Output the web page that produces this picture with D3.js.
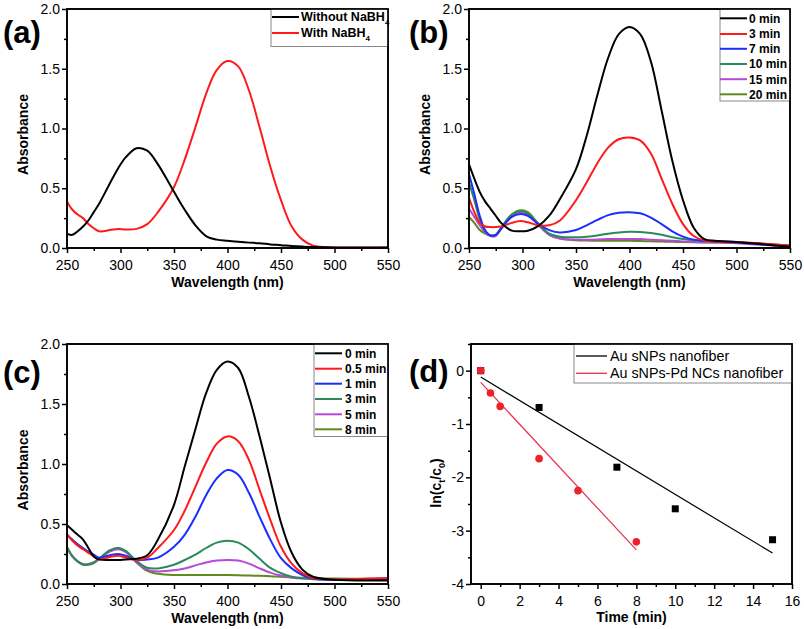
<!DOCTYPE html>
<html><head><meta charset="utf-8">
<script src="https://cdn.jsdelivr.net/npm/d3@7"></script>
<style>
html,body{margin:0;padding:0;background:#fff;}
svg{display:block;font-family:"Liberation Sans",Arial,sans-serif;}
</style></head>
<body>
<svg id="c" width="804" height="629"></svg>
<script>
// ---- shared wavelength grid (nm) ----
const wavelengths = [250,255,260,265,270,275,280,290,298,305,315,325,335,350,360,370,380,390,400,410,420,430,440,450,460,470,480,500,550];

// ---- panel (a) ----
const aLabels = ["Without NaBH", "With NaBH"];
const aWithout = [0.12,0.11,0.14,0.18,0.23,0.30,0.37,0.54,0.67,0.76,0.835,0.815,0.70,0.47,0.32,0.19,0.10,0.07,0.06,0.052,0.045,0.04,0.03,0.024,0.017,0.012,0.008,0.005,0.005];
const aWith = [0.39,0.32,0.28,0.25,0.20,0.165,0.14,0.15,0.16,0.155,0.16,0.20,0.30,0.51,0.74,1.01,1.29,1.49,1.565,1.52,1.32,1.01,0.68,0.40,0.18,0.07,0.02,0.005,0.005];

// ---- panel (b) ----
const bLabels = ["0 min","3 min","7 min","10 min","15 min","20 min"];
const b0 = [0.70,0.58,0.47,0.39,0.33,0.27,0.21,0.145,0.14,0.145,0.185,0.27,0.41,0.66,0.94,1.28,1.59,1.79,1.85,1.79,1.56,1.15,0.73,0.40,0.17,0.075,0.06,0.05,0.01];
const b3 = [0.42,0.30,0.21,0.18,0.175,0.175,0.18,0.21,0.225,0.215,0.19,0.19,0.23,0.40,0.55,0.71,0.84,0.91,0.925,0.90,0.79,0.58,0.37,0.20,0.10,0.065,0.055,0.05,0.02];
const b7 = [0.62,0.45,0.27,0.15,0.105,0.11,0.16,0.26,0.285,0.27,0.20,0.15,0.13,0.15,0.19,0.235,0.275,0.295,0.30,0.29,0.255,0.20,0.14,0.095,0.07,0.06,0.055,0.045,0.015];
const b10 = [0.55,0.40,0.24,0.14,0.105,0.11,0.17,0.28,0.31,0.29,0.20,0.12,0.095,0.09,0.095,0.105,0.12,0.13,0.135,0.133,0.125,0.11,0.09,0.075,0.065,0.06,0.058,0.05,0.02];
const b15 = [0.33,0.26,0.19,0.13,0.10,0.10,0.16,0.27,0.30,0.28,0.19,0.11,0.08,0.07,0.07,0.072,0.075,0.076,0.076,0.075,0.07,0.065,0.06,0.055,0.05,0.048,0.046,0.04,0.01];
const b20 = [0.26,0.21,0.15,0.12,0.105,0.11,0.165,0.28,0.315,0.30,0.20,0.11,0.08,0.065,0.062,0.06,0.06,0.06,0.06,0.058,0.056,0.054,0.052,0.05,0.048,0.047,0.046,0.044,0.02];

// ---- panel (c) ----
const cLabels = ["0 min","0.5 min","1 min","3 min","5 min","8 min"];
const c0 = [0.49,0.45,0.41,0.37,0.30,0.23,0.205,0.2,0.2,0.205,0.21,0.24,0.37,0.66,0.98,1.29,1.59,1.785,1.855,1.80,1.56,1.23,0.87,0.51,0.26,0.12,0.06,0.035,0.03];
const c05 = [0.415,0.36,0.32,0.29,0.26,0.23,0.205,0.225,0.235,0.22,0.2,0.22,0.30,0.45,0.61,0.81,1.01,1.17,1.23,1.19,1.035,0.785,0.535,0.31,0.17,0.09,0.05,0.04,0.05];
const c1 = [0.41,0.37,0.33,0.30,0.27,0.245,0.22,0.24,0.25,0.235,0.2,0.205,0.22,0.31,0.41,0.56,0.74,0.88,0.95,0.91,0.76,0.56,0.37,0.215,0.13,0.075,0.045,0.035,0.035];
const c3 = [0.30,0.23,0.19,0.165,0.165,0.18,0.21,0.28,0.30,0.275,0.19,0.135,0.13,0.16,0.20,0.245,0.30,0.345,0.36,0.345,0.29,0.21,0.135,0.09,0.06,0.047,0.042,0.04,0.04];
const c5 = [0.30,0.235,0.19,0.165,0.165,0.18,0.21,0.27,0.29,0.265,0.18,0.12,0.105,0.115,0.13,0.155,0.18,0.195,0.20,0.195,0.17,0.13,0.095,0.07,0.055,0.045,0.04,0.035,0.035];
const c8 = [0.31,0.23,0.185,0.16,0.16,0.175,0.21,0.28,0.30,0.275,0.18,0.11,0.085,0.075,0.075,0.075,0.075,0.075,0.075,0.073,0.07,0.068,0.065,0.06,0.055,0.052,0.05,0.045,0.045];

// ---- panel (d) ----
const dLabels = ["Au sNPs nanofiber","Au sNPs-Pd NCs nanofiber"];
const dTimeAu = [0,3,7,10,15];
const dLnAu = [0,-0.69,-1.81,-2.59,-3.17];
const dTimePd = [0,0.5,1,3,5,8];
const dLnPd = [0,-0.42,-0.67,-1.65,-2.25,-3.21];
const dFitAuT = [0,15], dFitAuY = [-0.12,-3.42];
const dFitPdT = [0,8], dFitPdY = [-0.22,-3.36];

const wlTicks = [250,300,350,400,450,500,550];
const wlMinor = [275,325,375,425,475,525];
const absTicks = [0,0.5,1.0,1.5,2.0];
const absMinor = [0.25,0.75,1.25,1.75];

const svg = d3.select("#c");
const FONT = '"Liberation Sans",Arial,sans-serif';

function frameAxes(g, x, y, L, R, T, B, xt, xm, yt, ym, fmtX, fmtY) {
  const ax = g.append("g").attr("transform", `translate(0,${B})`)
    .call(d3.axisBottom(x).tickValues(xt).tickSize(5).tickSizeOuter(0).tickFormat(fmtX));
  const axm = g.append("g").attr("transform", `translate(0,${B})`)
    .call(d3.axisBottom(x).tickValues(xm).tickSize(3).tickSizeOuter(0).tickFormat(""));
  const ay = g.append("g").attr("transform", `translate(${L},0)`)
    .call(d3.axisLeft(y).tickValues(yt).tickSize(5).tickSizeOuter(0).tickFormat(fmtY));
  const aym = g.append("g").attr("transform", `translate(${L},0)`)
    .call(d3.axisLeft(y).tickValues(ym).tickSize(3).tickSizeOuter(0).tickFormat(""));
  [ax, axm, ay, aym].forEach(a => {
    a.select(".domain").remove();
    a.selectAll("line").attr("stroke", "#000").attr("stroke-width", 1.5);
    a.selectAll("text").attr("fill", "#000").attr("font-size", 14).attr("font-family", FONT);
  });
  ax.selectAll("text").attr("y", 9).attr("dy", "0.9em");
  ay.selectAll("text").attr("x", -7);
  g.append("rect").attr("x", L).attr("y", T).attr("width", R - L).attr("height", B - T)
    .attr("fill", "none").attr("stroke", "#000").attr("stroke-width", 1.6);
}

let clipN = 0;
function spectrumPanel(opts) {
  const {L, R, T, B, series, colors, labels, tag, tagX, tagY, legend} = opts;
  const g = svg.append("g");
  const x = d3.scaleLinear().domain([250, 550]).range([L, R]);
  const y = d3.scaleLinear().domain([0, 2]).range([B, T]);
  const id = "clip" + (clipN++);
  svg.append("clipPath").attr("id", id).append("rect")
    .attr("x", L).attr("y", T).attr("width", R - L).attr("height", B - T);
  const line = d3.line().x((d, i) => x(wavelengths[i])).y(d => y(d)).curve(d3.curveCatmullRom.alpha(0.5));
  const lines = g.append("g").attr("clip-path", `url(#${id})`);
  series.map((s, i) => ({s, i})).reverse().forEach(({s, i}) => {
    lines.append("path").attr("d", line(s)).attr("fill", "none")
      .attr("stroke", colors[i]).attr("stroke-width", 2);
  });
  frameAxes(g, x, y, L, R, T, B, wlTicks, wlMinor, absTicks, absMinor, d3.format("d"), d3.format(".1f"));
  g.append("text").attr("x", (L + R) / 2).attr("y", B + 39).attr("text-anchor", "middle")
    .attr("font-weight", "bold").attr("font-size", 14).text("Wavelength (nm)");
  g.append("text").attr("transform", `translate(${L - 39},${(T + B) / 2 + 6}) rotate(-90)`)
    .attr("text-anchor", "middle").attr("font-weight", "bold").attr("font-size", 14).text("Absorbance");
  g.append("text").attr("x", tagX).attr("y", tagY).attr("font-weight", "bold")
    .attr("font-size", 31).text(tag);
  const lg = g.append("g");
  lg.append("rect").attr("x", legend.x0).attr("y", T).attr("width", legend.x1 - legend.x0)
    .attr("height", legend.y1 - T).attr("fill", "#fff").attr("stroke", "#888").attr("stroke-width", 1);
  labels.forEach((lab, i) => {
    const yy = legend.rows[i];
    lg.append("line").attr("x1", legend.lx0).attr("x2", legend.lx1).attr("y1", yy).attr("y2", yy)
      .attr("stroke", colors[i]).attr("stroke-width", 2);
    const t = lg.append("text").attr("x", legend.tx).attr("y", yy + 4.3)
      .attr("font-weight", "bold").attr("font-size", legend.fs).text(lab);
    if (legend.sub) t.append("tspan").attr("font-size", 8).attr("dy", 4).text(legend.sub);
  });
  // redraw frame over legend
  g.append("rect").attr("x", L).attr("y", T).attr("width", R - L).attr("height", B - T)
    .attr("fill", "none").attr("stroke", "#000").attr("stroke-width", 1.6);
}

spectrumPanel({
  L: 67, R: 388, T: 9, B: 248,
  series: [aWithout, aWith], colors: ["#000000", "#ff1a1a"], labels: aLabels,
  tag: "(a)", tagX: 3, tagY: 43,
  legend: {x0: 271, x1: 388, y1: 46.5, rows: [17, 33], lx0: 272, lx1: 299, tx: 301, fs: 12.5, sub: "4"}
});

spectrumPanel({
  L: 469, R: 790, T: 9, B: 248,
  series: [b0, b3, b7, b10, b15, b20],
  colors: ["#000000", "#ff1a1a", "#1a2eff", "#2a8a5a", "#b848d8", "#5f8a1e"], labels: bLabels,
  tag: "(b)", tagX: 409, tagY: 43,
  legend: {x0: 720, x1: 790, y1: 101, rows: [18.3, 34, 48.8, 64, 79.2, 94.3], lx0: 720, lx1: 747, tx: 749, fs: 12}
});

spectrumPanel({
  L: 67, R: 388, T: 344, B: 584,
  series: [c0, c05, c1, c3, c5, c8],
  colors: ["#000000", "#ff1a1a", "#1a2eff", "#2a8a5a", "#b848d8", "#5f8a1e"], labels: cLabels,
  tag: "(c)", tagX: 3, tagY: 383,
  legend: {x0: 314, x1: 388, y1: 436.5, rows: [353.3, 368.7, 383.7, 399, 414.3, 429.3], lx0: 315, lx1: 342, tx: 345, fs: 12}
});

// ---- panel (d) ----
(function () {
  const L = 471, R = 792, T = 344, B = 584;
  const g = svg.append("g");
  const x = d3.scaleLinear().domain([-0.5, 16]).range([L, R]);
  const y = d3.scaleLinear().domain([-4, 0.5]).range([B, T]);
  const fit = d3.line().x(d => x(d[0])).y(d => y(d[1]));
  g.append("path").attr("d", fit(dFitAuT.map((t, i) => [t, dFitAuY[i]])))
    .attr("stroke", "#000").attr("stroke-width", 1.2).attr("fill", "none");
  g.append("path").attr("d", fit(dFitPdT.map((t, i) => [t, dFitPdY[i]])))
    .attr("stroke", "#e8304a").attr("stroke-width", 1.2).attr("fill", "none");
  g.selectAll("rect.sq").data(dTimeAu.map((t, i) => [t, dLnAu[i]])).enter().append("rect")
    .attr("x", d => x(d[0]) - 3.5).attr("y", d => y(d[1]) - 3.5).attr("width", 7).attr("height", 7)
    .attr("fill", "#000");
  g.selectAll("circle.pt").data(dTimePd.map((t, i) => [t, dLnPd[i]])).enter().append("circle")
    .attr("cx", d => x(d[0])).attr("cy", d => y(d[1])).attr("r", 3.8).attr("fill", "#f0202a");
  frameAxes(g, x, y, L, R, T, B, d3.range(0, 17, 2), d3.range(1, 16, 2),
    [0, -1, -2, -3, -4], [0.5, -0.5, -1.5, -2.5, -3.5], d => String(d), d => String(d));
  g.append("text").attr("x", (L + R) / 2).attr("y", B + 38).attr("text-anchor", "middle")
    .attr("font-weight", "bold").attr("font-size", 14).text("Time (min)");
  const yl = g.append("text").attr("transform", `translate(${L - 30},483) rotate(-90)`)
    .attr("text-anchor", "middle").attr("font-weight", "bold").attr("font-size", 14);
  yl.append("tspan").text("ln(c");
  yl.append("tspan").attr("font-size", 9).attr("dy", 4).text("t");
  yl.append("tspan").attr("dy", -4).text("/c");
  yl.append("tspan").attr("font-size", 9).attr("dy", 4).text("0");
  yl.append("tspan").attr("dy", -4).text(")");
  g.append("text").attr("x", 409).attr("y", 381.5).attr("font-weight", "bold").attr("font-size", 31).text("(d)");
  const lg = g.append("g");
  lg.append("rect").attr("x", 574).attr("y", T).attr("width", R - 574).attr("height", 39)
    .attr("fill", "#fff").attr("stroke", "#888").attr("stroke-width", 1);
  const lc = ["#000", "#e8304a"], rows = [356, 373.3];
  dLabels.forEach((lab, i) => {
    lg.append("line").attr("x1", 576).attr("x2", 607).attr("y1", rows[i]).attr("y2", rows[i])
      .attr("stroke", lc[i]).attr("stroke-width", 1.3);
    lg.append("text").attr("x", 610).attr("y", rows[i] + 5).attr("font-size", 14.3).text(lab);
  });
  g.append("rect").attr("x", L).attr("y", T).attr("width", R - L).attr("height", B - T)
    .attr("fill", "none").attr("stroke", "#000").attr("stroke-width", 1.6);
})();
</script>
</body></html>
